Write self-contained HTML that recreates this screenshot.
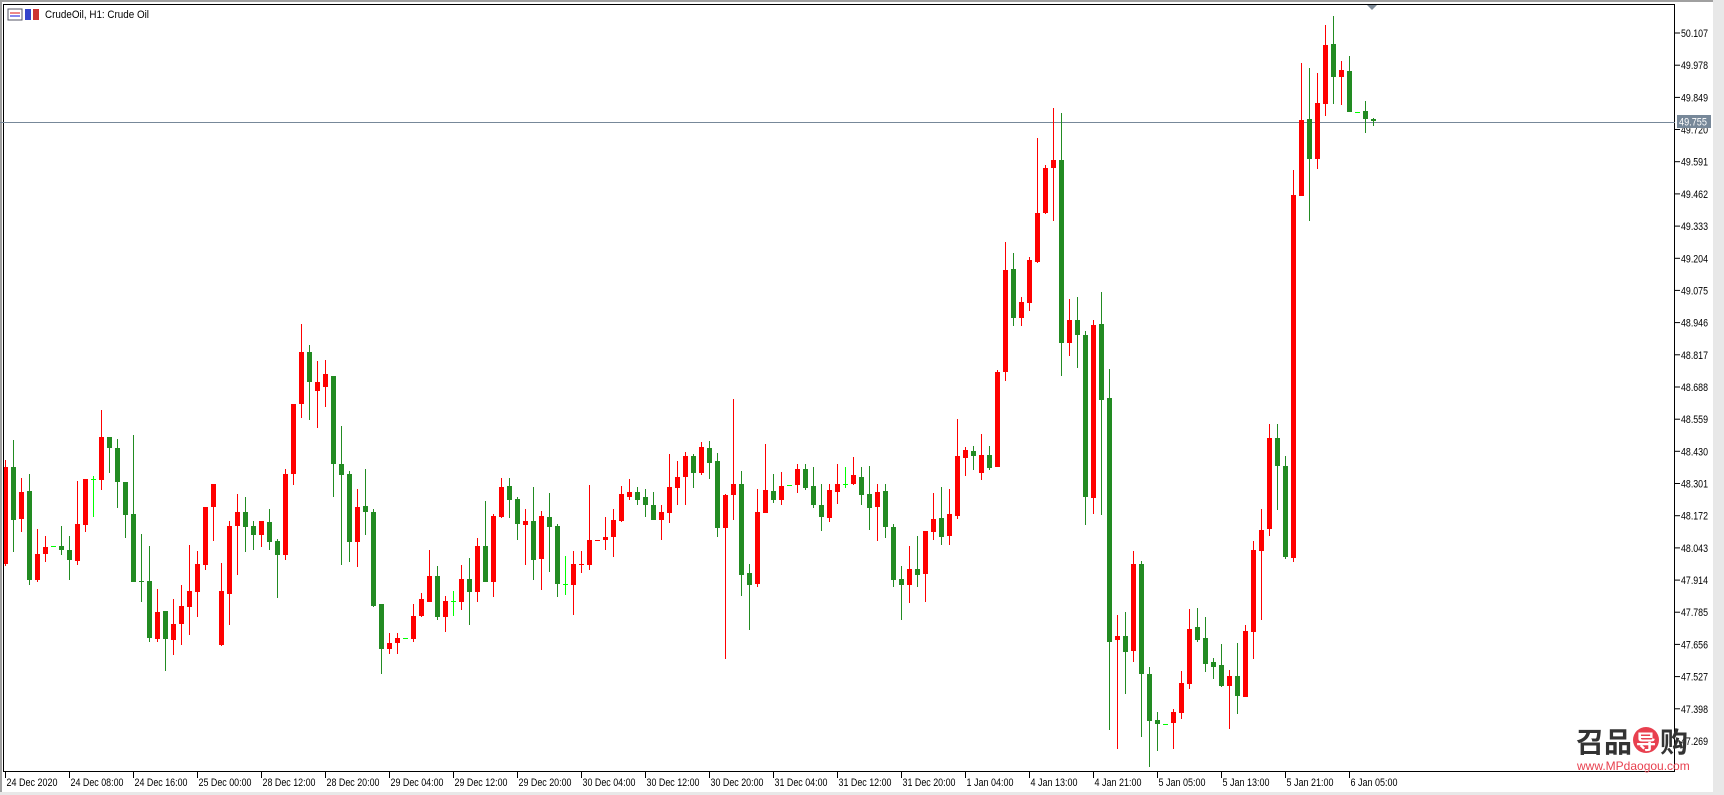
<!DOCTYPE html>
<html><head><meta charset="utf-8"><style>
html,body{margin:0;padding:0;background:#fff;width:1724px;height:795px;overflow:hidden}
svg{display:block}
text{font-family:"Liberation Sans","DejaVu Sans",sans-serif;font-size:11px;fill:#000}
</style></head><body>
<svg id="s" width="1724" height="795" xmlns="http://www.w3.org/2000/svg">
<rect x="0" y="0" width="1724" height="795" fill="#fff"/>
<rect x="0" y="0" width="1724" height="2" fill="#a0a0a0"/>
<rect x="0" y="0" width="2" height="795" fill="#a0a0a0"/>
<rect x="1713" y="0" width="11" height="795" fill="#e8e8e8"/>
<rect x="0" y="792" width="1724" height="3" fill="#e8e8e8"/>
<rect x="3.5" y="4.5" width="1671" height="767" fill="none" stroke="#000" stroke-width="1"/>
<line x1="0" y1="122.5" x2="1675" y2="122.5" stroke="#778899" stroke-width="1"/>
<polygon points="1367,5 1377,5 1372,10" fill="#7f8c99"/>
<g id="c"></g>
<g id="ax"></g>
<rect x="8" y="9" width="14" height="11" fill="#fff" stroke="#556" stroke-width="1"/>
<rect x="10" y="12" width="10" height="2" fill="#e88"/><rect x="10" y="15" width="10" height="2" fill="#88e"/>
<rect x="25" y="9" width="6" height="11" fill="#3344cc"/><rect x="33" y="9" width="6" height="11" fill="#cc3333"/>
<text x="45" y="18" textLength="104" lengthAdjust="spacingAndGlyphs">CrudeOil, H1:  Crude Oil</text>
<rect x="1677" y="115" width="34" height="13" fill="#778899"/>
<text x="1679" y="125.5" style="fill:#fff" textLength="28" lengthAdjust="spacingAndGlyphs">49.755</text>
<text x="1576" y="752" style="font-family:'Noto Sans CJK SC',sans-serif;font-size:28px;font-weight:bold;fill:#333">召品</text>
<circle cx="1646" cy="740" r="13" fill="#e8404f"/>
<text x="1636" y="749" style="font-family:'Noto Sans CJK SC',sans-serif;font-size:20px;font-weight:bold;fill:#fff">导</text>
<text x="1660" y="752" style="font-family:'Noto Sans CJK SC',sans-serif;font-size:28px;font-weight:bold;fill:#333">购</text>
<text x="1577" y="770" style="font-size:12px;fill:#e8404f">www.MPdaogou.com</text>
</svg>
<script>
var D=[
["r",467,564,460,566],["g",467,520,440,552],["r",492,519,478,532],["g",491,580,474,585],["r",554,580,529,582],
["r",547,554,536,562],["d",546,546,546,546],["g",546,550,526,555],["g",550,560,536,580],["r",524,561,481,565],
["r",479,525,479,532],["d",479,479,476,517],["r",437,480,410,490],["g",437,448,437,473],["g",448,482,439,508],
["g",482,515,482,538],["g",514,582,435,582],["g",581,582,534,602],["g",581,638,546,642],["r",612,639,589,642],
["g",611,639,611,671],["r",624,640,599,655],["r",606,624,585,645],["r",591,607,545,635],["r",564,592,551,617],
["r",507,565,507,570],["r",484,507,484,541],["r",591,645,563,646],["r",526,594,521,625],["r",512,526,494,575],
["g",512,527,497,552],["g",526,535,521,550],["r",521,535,521,547],["g",522,542,509,550],["g",541,555,539,598],
["r",474,555,469,560],["r",404,474,404,485],["r",352,404,324,418],["g",352,382,345,420],["r",382,391,361,428],
["r",374,387,360,407],["g",376,464,376,497],["g",464,475,426,565],["g",474,542,471,562],["r",507,542,489,567],
["g",506,512,469,535],["g",512,606,509,607],["g",604,649,604,674],["r",643,649,633,654],["r",638,643,633,654],
["d",638,638,638,638],["r",616,639,604,642],["r",599,616,593,617],["r",576,602,550,602],["g",576,617,566,620],
["r",601,617,596,632],["d",601,601,591,616],["r",579,602,565,610],["g",579,592,558,625],["r",546,592,538,602],
["g",546,582,501,582],["r",516,582,514,597],["r",487,517,478,518],["g",486,500,478,518],["g",499,524,497,540],
["r",521,525,509,565],["g",521,560,487,580],["r",516,559,511,590],["g",517,527,493,572],["g",526,584,524,597],
["d",584,584,556,595],["r",564,585,551,615],["r",564,565,551,573],["r",540,565,485,570],["r",540,541,540,541],
["r",537,540,517,550],["r",520,537,509,557],["r",494,521,486,522],["r",492,497,479,500],["g",492,500,487,505],
["g",497,505,489,517],["g",505,520,492,520],["r",512,520,505,540],["r",487,513,454,523],["r",477,488,461,505],
["r",456,477,452,505],["g",456,473,454,488],["r",447,473,442,475],["g",448,463,441,479],["g",461,528,453,537],
["r",495,528,494,659],["r",484,495,399,520],["g",484,575,471,596],["g",573,585,564,630],["r",512,584,489,587],
["r",490,513,444,513],["g",491,500,474,503],["r",486,500,472,505],["d",485,485,485,485],["r",469,485,464,493],
["g",469,488,464,490],["g",486,505,467,508],["g",505,517,484,531],["r",490,518,484,522],["r",484,492,464,504],
["d",484,484,467,488],["r",475,484,457,485],["g",477,495,467,505],["g",494,508,466,530],["r",492,507,484,541],
["g",491,527,484,538],["g",527,580,524,587],["g",579,585,566,620],["r",569,585,546,603],["g",569,575,536,587],
["r",531,574,531,602],["r",519,532,493,540],["g",518,537,487,545],["r",514,536,489,545],["r",456,516,419,519],
["r",450,458,447,476],["g",451,456,446,470],["r",455,473,434,480],["g",455,468,446,470],["r",372,467,370,467],
["r",270,372,242,381],["g",269,318,253,326],["r",302,318,297,326],["r",260,303,257,311],["r",213,262,138,263],
["r",168,213,165,214],["r",160,168,108,221],["g",160,343,113,376],["r",320,343,299,356],["g",320,335,297,368],
["g",335,497,331,525],["r",325,498,320,514],["g",324,400,292,515],["g",398,642,369,730],["r",636,640,615,749],
["g",636,652,612,694],["r",564,651,551,662],["g",564,674,561,737],["g",674,721,667,767],["g",720,724,712,751],
["d",724,724,724,724],["r",712,723,709,749],["r",683,713,671,719],["r",629,684,609,689],["g",627,640,608,642],
["g",638,664,617,672],["g",662,667,658,679],["g",665,686,644,687],["r",676,686,670,729],["g",676,696,643,714],
["r",631,697,625,697],["r",550,632,541,659],["r",530,551,509,620],["r",438,529,424,536],["g",438,466,424,510],
["g",466,557,456,559],["r",195,558,170,562],["r",120,196,63,196],["g",119,159,68,221],["r",103,159,73,169],
["r",45,104,25,116],["g",44,77,16,104],["r",70,77,61,105],["g",71,112,56,112],["d",112,112,112,112],
["g",111,119,101,133],["g",119,121,118,126]
];
var col={r:"#ff0000",g:"#228b22",d:"#00ff00"};
var h="";
for(var i=0;i<D.length;i++){
 var d=D[i],cx=Math.round(4.7+8*i),c=col[d[0]];
 var x0=Math.max(4,cx-2),w=cx+3-x0;
 h+='<rect x="'+cx+'" y="'+d[3]+'" width="1" height="'+Math.max(1,d[4]-d[3])+'" fill="'+c+'"/>';
 var bh=d[2]-d[1];
 if(bh<1){bh=1;}
 h+='<rect x="'+x0+'" y="'+d[1]+'" width="'+w+'" height="'+bh+'" fill="'+c+'"/>';
}
document.getElementById("c").innerHTML=h;
var a="";
for(var k=0;k<23;k++){
 var v=(50.107-0.129*k).toFixed(3),y=33+k*32.18;
 a+='<line x1="1675" y1="'+y.toFixed(1)+'" x2="1680" y2="'+y.toFixed(1)+'" stroke="#000"/>';
 var ty=(Math.abs(y-122)>6)?y+4:y+6;
 a+='<text x="1681" y="'+ty.toFixed(1)+'" textLength="27" lengthAdjust="spacingAndGlyphs">'+v+'</text>';
}
var T=["24 Dec 2020","24 Dec 08:00","24 Dec 16:00","25 Dec 00:00","28 Dec 12:00","28 Dec 20:00","29 Dec 04:00","29 Dec 12:00","29 Dec 20:00","30 Dec 04:00","30 Dec 12:00","30 Dec 20:00","31 Dec 04:00","31 Dec 12:00","31 Dec 20:00","1 Jan 04:00","4 Jan 13:00","4 Jan 21:00","5 Jan 05:00","5 Jan 13:00","5 Jan 21:00","6 Jan 05:00"];
for(var k=0;k<T.length;k++){
 var x=Math.round(4.5+64*k)+0.5;
 var tl=T[k].length>=12?53:(T[k].indexOf("Dec")>=0?51:47);
 a+='<line x1="'+x+'" y1="772" x2="'+x+'" y2="778" stroke="#000"/>';
 a+='<text x="'+(x+1)+'" y="786" textLength="'+tl+'" lengthAdjust="spacingAndGlyphs">'+T[k]+'</text>';
}
document.getElementById("ax").innerHTML=a;
</script>
</body></html>
